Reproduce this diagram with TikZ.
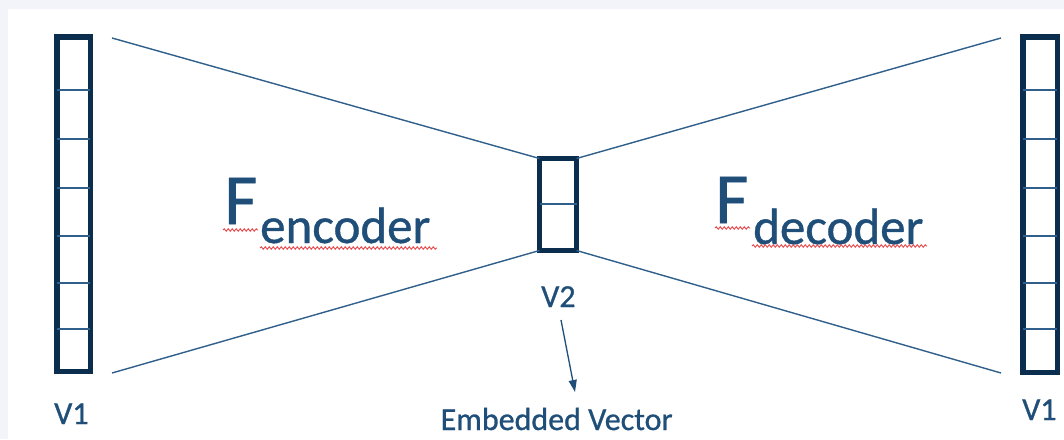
\documentclass[tikz,border=0pt]{standalone}
\usepackage{fontspec}
\setmainfont{Carlito}
\newfontfamily\lblfont[FakeBold=0.8]{Carlito}
\usetikzlibrary{arrows.meta,decorations.pathmorphing}
\definecolor{bgray}{HTML}{F3F4F9}
\definecolor{navy}{HTML}{0B2E4F}
\definecolor{linec}{HTML}{2F5F8A}
\definecolor{textc}{HTML}{1F4E79}
\definecolor{squig}{HTML}{E8474A}
\tikzset{
  vecbox/.style={draw=navy, line width=5.5pt, rectangle, inner sep=0pt, outer sep=0pt},
  divider/.style={draw=linec, line width=1.2pt},
  fanline/.style={draw=linec, line width=1.4pt},
  lab/.style={text=textc, anchor=base west, inner sep=0pt, font=\lblfont\fontsize{32}{32}\selectfont},
  bigF/.style={text=textc, anchor=base west, inner sep=0pt, font=\lblfont\fontsize{72}{72}\selectfont},
  subF/.style={text=textc, anchor=base west, inner sep=0pt, font=\lblfont\fontsize{51}{51}\selectfont},
  squiggle/.style={draw=squig, line width=0.9pt, decorate, decoration={snake, amplitude=1.3pt, segment length=4pt}},
  pointer/.style={draw=textc, line width=1.3pt, -{Triangle[length=12pt,width=8pt]}}
}
\begin{document}
\begin{tikzpicture}[x=1pt,y=-1pt]
\useasboundingbox (0,0) rectangle (1064,439);
\fill[bgray] (0,0) rectangle (1064,439);
\fill[white] (8,9) rectangle (1064,439);

% vectors
\node[vecbox, minimum width=33.5pt, minimum height=334.5pt] (vl) at (73.5,204) {};
\node[vecbox, minimum width=34.5pt, minimum height=335.5pt] (vr) at (1040,204.5) {};
\node[vecbox, minimum width=37pt, minimum height=92pt] (vc) at (558,204.5) {};

\foreach \yy in {90,139,188,236,283,329}{
  \draw[divider] (vl.west |- 0,\yy) -- (vl.east |- 0,\yy);
  \draw[divider] (vr.west |- 0,\yy) -- (vr.east |- 0,\yy);
}
\draw[divider] (vc.west |- 0,204) -- (vc.east |- 0,204);

% fan lines
\coordinate (lt) at (112,38);
\coordinate (lb) at (112,373);
\coordinate (rt) at (1001,38);
\coordinate (rb) at (1001,373);
\draw[fanline] (lt) -- (vc.north west);
\draw[fanline] (lb) -- (vc.south west);
\draw[fanline] (rt) -- (vc.north east);
\draw[fanline] (rb) -- (vc.south east);

% F labels
\node[bigF] (fe) at (224,224) {F};
\node[subF] (enc) at (260,243) {encoder};
\node[bigF] (fd) at (715,223) {F};
\node[subF] (dec) at (753,244) {decoder};
\draw[squiggle] (223,230) -- (258,230);
\draw[squiggle] (260,248) -- (437,248);
\draw[squiggle] (715,228) -- (750,228);
\draw[squiggle] (752,246) -- (927,246);

% vector labels
\node[lab] (l1) at (54,424) {V1};
\node[lab] (r1) at (1022,420) {V1};
\node[lab] (l2) at (541,307) {V2};
\node[lab] (emb) at (440.5,430) {Embedded Vector};

\coordinate (as) at (561,320);
\coordinate (ae) at (575,392);
\draw[pointer] (as) -- (ae);
\end{tikzpicture}
\end{document}
